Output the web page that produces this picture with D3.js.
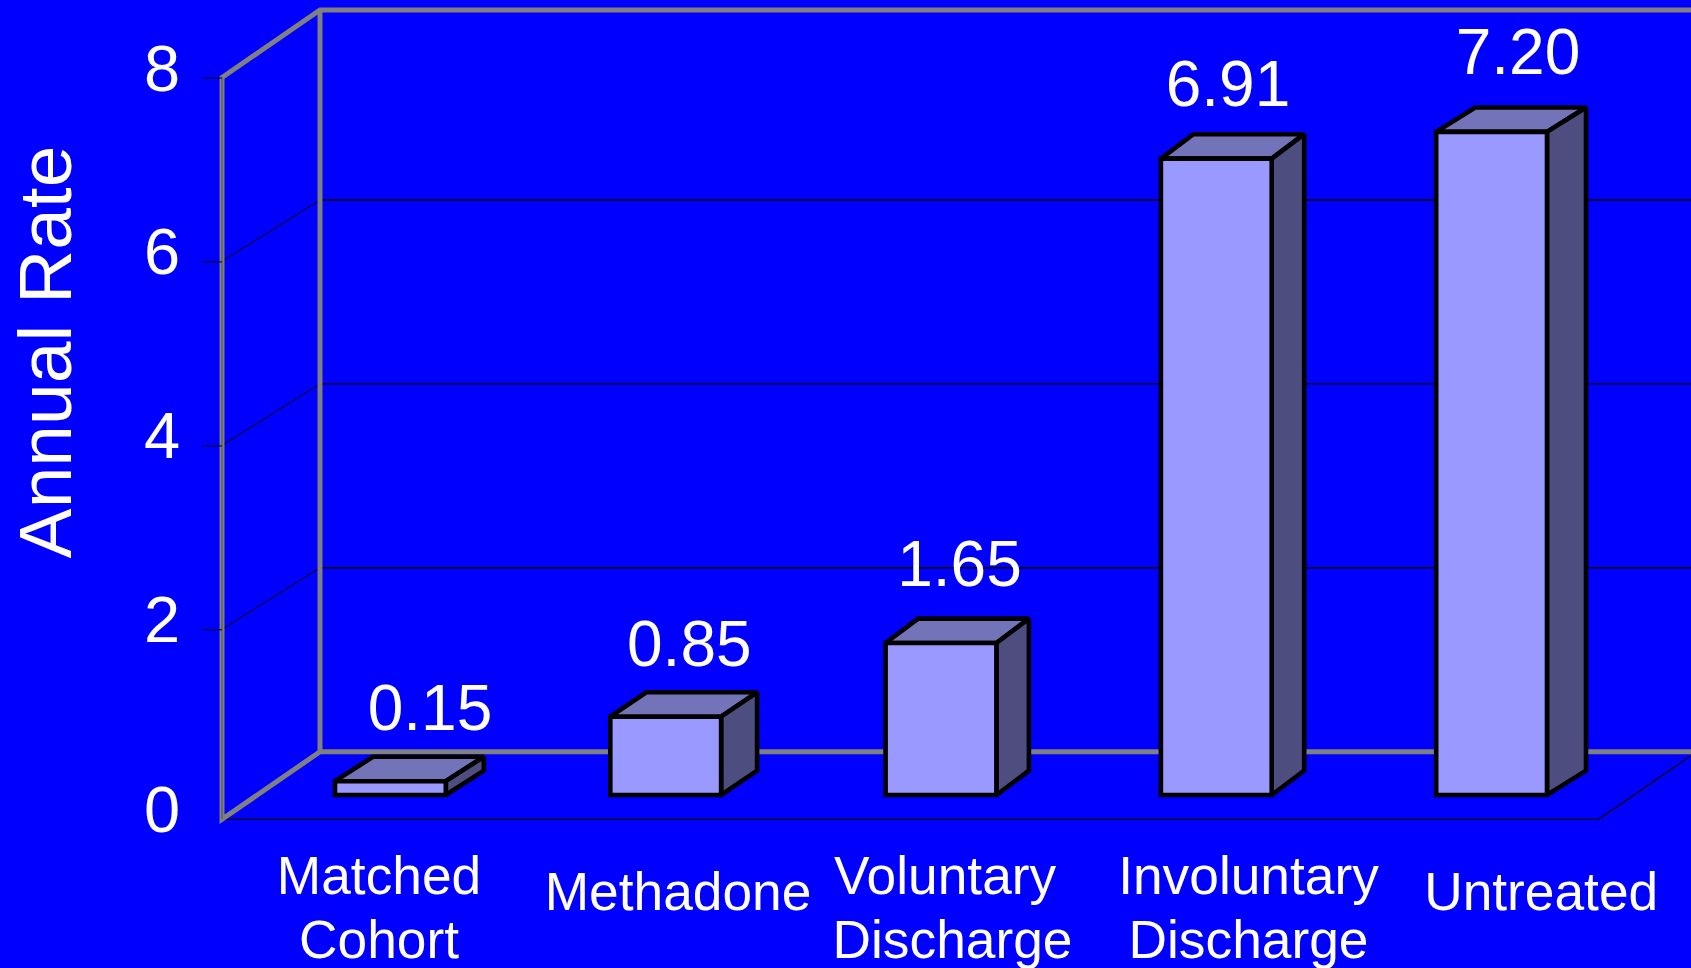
<!DOCTYPE html>
<html>
<head>
<meta charset="utf-8">
<script src="https://cdn.jsdelivr.net/npm/d3@7/dist/d3.min.js"></script>
<style>
  html, body { margin: 0; padding: 0; background: #0000ff; overflow: hidden; }
  text { font-family: "Liberation Sans", Arial, sans-serif; fill: #fff; white-space: pre; }
</style>
</head>
<body>
<script>
// Annual rate by treatment group
const categories = ["Matched Cohort", "Methadone", "Voluntary Discharge", "Involuntary Discharge", "Untreated"];
const categoryLines = [["Matched", "Cohort"], ["Methadone"], ["Voluntary ", "Discharge"], ["Involuntary", "Discharge"], ["Untreated"]];
const values = [0.15, 0.85, 1.65, 6.91, 7.20];
const valueLabels = ["0.15", "0.85", "1.65", "6.91", "7.20"];
const axisTicks = [0, 2, 4, 6, 8];
const axisTitle = "Annual Rate";

const width = 1691, height = 968;
const colors = { bg: "#0000ff", wall: "#808080", grid: "#000000", front: "#9999ff", top: "#7373b9", side: "#4d4d80" };

const svg = d3.select("body").append("svg")
  .attr("width", width).attr("height", height).style("display", "block");
svg.append("rect").attr("width", width).attr("height", height).attr("fill", colors.bg);

// Wall planes of the 3D box: front edge and back edge of the left wall
const yFront = d3.scaleLinear().domain([0, 2, 8]).range([819.3, 629.3, 77.5]);
const yBack = d3.scaleLinear().domain([0, 6, 8]).range([751.7, 200, 10]);
const xFront = 222, xBack = 320, xFloorEnd = 1598.7;

// Bars stand on their own plane, set in from the front of the floor
const yBar = d3.scaleLinear().domain([0, 8]).range([795, 58.2]);
const xBar = d3.scaleBand().domain(categories).range([335, 1547]).paddingInner(0.5975).paddingOuter(0);
const depthX = d3.scaleOrdinal().domain(categories).range([38, 36, 32.5, 32.5, 39]);
const depthY = 24.4;

// Hand-placed text anchors
const valueX = d3.scaleOrdinal().domain(categories).range([430, 689.3, 959.5, 1228, 1518]);
const valueBaseline = d3.scaleOrdinal().domain(categories).range([730, 665.7, 586, 106, 74]);
const categoryX = d3.scaleOrdinal().domain(categories).range([379, 678, 952.5, 1248.5, 1541.2]);
const categoryBaseline = d3.scaleOrdinal().domain(categories).range([894, 909.6, 894, 894, 909.6]);

const line = d3.line();

// Gridlines on the back wall and the left wall
const gridTicks = axisTicks.filter(t => t > 0 && t < 8);
svg.append("g").selectAll("line").data(gridTicks).join("line")
  .attr("x1", xBack).attr("x2", width)
  .attr("y1", d => yBack(d)).attr("y2", d => yBack(d))
  .attr("stroke", colors.grid).attr("stroke-width", 1.4);
svg.append("g").selectAll("line").data(gridTicks).join("line")
  .attr("x1", xFront).attr("x2", xBack)
  .attr("y1", d => yFront(d)).attr("y2", d => yBack(d))
  .attr("stroke", colors.grid).attr("stroke-width", 1);

// Floor edges
svg.append("path")
  .attr("d", line([[xFront, yFront(0)], [xFloorEnd, yFront(0)], [xFloorEnd + xBack - xFront, yBack(0)]]))
  .attr("fill", "none").attr("stroke", colors.grid).attr("stroke-width", 1.2);

// Outer box edges in grey
const wallEdges = [
  [[width, yBack(8)], [xBack, yBack(8)], [xFront, yFront(8)], [xFront, yFront(0)], [xBack, yBack(0)], [width, yBack(0)]],
  [[xBack, yBack(8)], [xBack, yBack(0)]]
];
svg.append("g").selectAll("path").data(wallEdges).join("path")
  .attr("d", d => line(d))
  .attr("fill", "none").attr("stroke", colors.wall).attr("stroke-width", 5).attr("stroke-linejoin", "miter");
svg.append("line")
  .attr("x1", xFront).attr("x2", xFront).attr("y1", yFront(8)).attr("y2", yFront(0))
  .attr("stroke", "#555").attr("stroke-width", 1);

// Tick marks and tick labels on the value axis
const axis = d3.axisLeft(yFront).tickValues(gridTicks.concat([8])).tickSize(20).tickFormat("");
const axisG = svg.append("g").attr("transform", `translate(${xFront},0)`).call(axis);
axisG.select(".domain").remove();
axisG.selectAll("line").attr("stroke", colors.grid).attr("stroke-width", 1);

svg.append("g").selectAll("text").data(axisTicks).join("text")
  .attr("x", 162).attr("y", d => yFront(d) + 13)
  .attr("text-anchor", "middle").attr("font-size", 65)
  .text(d => d);

// Bars: top, side and front faces
const bars = svg.append("g").selectAll("g")
  .data(categories.map((c, i) => ({ c, v: values[i] })))
  .join("g")
  .attr("stroke", "#000").attr("stroke-width", 4.6)
  .attr("stroke-linejoin", "miter").attr("stroke-miterlimit", 1.6);

bars.append("path").attr("fill", colors.top).attr("d", d => {
  const l = xBar(d.c), r = l + xBar.bandwidth(), t = yBar(d.v), dx = depthX(d.c);
  return line([[l, t], [l + dx, t - depthY], [r + dx, t - depthY], [r, t]]) + "Z";
});
bars.append("path").attr("fill", colors.side).attr("d", d => {
  const r = xBar(d.c) + xBar.bandwidth(), t = yBar(d.v), b = yBar(0), dx = depthX(d.c);
  return line([[r, t], [r + dx, t - depthY], [r + dx, b - depthY], [r, b]]) + "Z";
});
bars.append("path").attr("fill", colors.front).attr("d", d => {
  const l = xBar(d.c), r = l + xBar.bandwidth(), t = yBar(d.v), b = yBar(0);
  return line([[l, t], [r, t], [r, b], [l, b]]) + "Z";
});

// Value labels
svg.append("g").selectAll("text").data(categories).join("text")
  .attr("x", d => valueX(d)).attr("y", d => valueBaseline(d))
  .attr("text-anchor", "middle").attr("font-size", 64)
  .text((d, i) => valueLabels[i]);

// Category labels, one or two lines each
const catLabels = svg.append("g").selectAll("text").data(categories).join("text")
  .attr("text-anchor", "middle").attr("font-size", 53.3);
catLabels.each(function (c, i) {
  d3.select(this).selectAll("tspan").data(categoryLines[i]).join("tspan")
    .attr("x", categoryX(c))
    .attr("y", (d, j) => categoryBaseline(c) + j * 63.8)
    .text(d => d);
});

// Axis title
svg.append("text")
  .attr("transform", "translate(70.7,352) rotate(-90)")
  .attr("text-anchor", "middle").attr("font-size", 75)
  .text(axisTitle);
</script>
</body>
</html>
